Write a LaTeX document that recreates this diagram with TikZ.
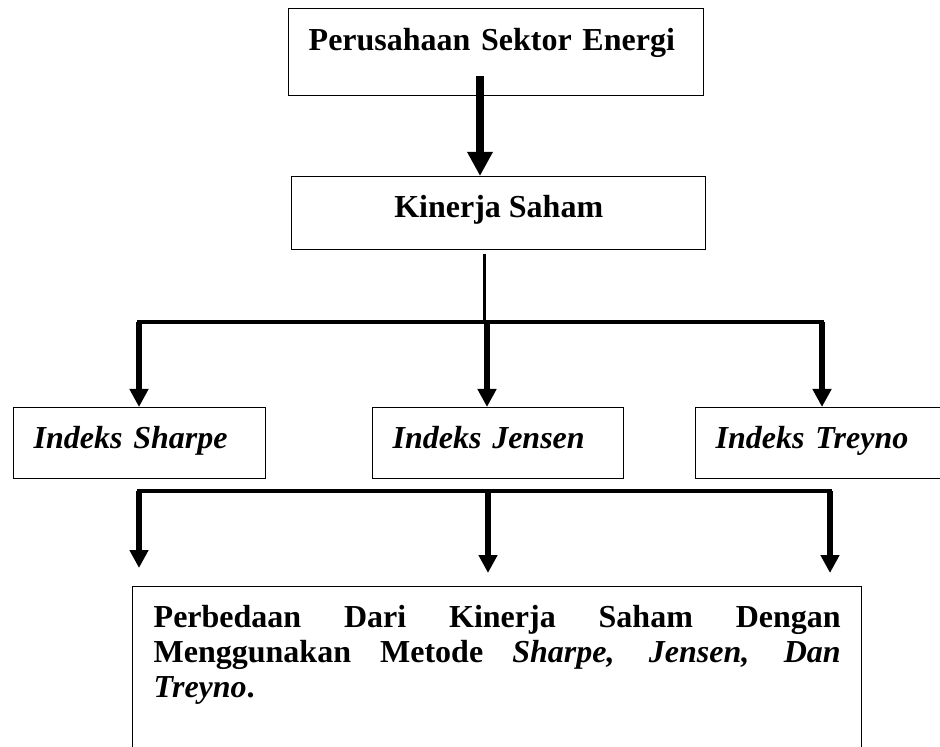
\documentclass[tikz,border=0pt]{standalone}
\usepackage{fontspec}
\setmainfont{Liberation Serif}
\usetikzlibrary{arrows.meta}
\hbadness=10000
\tikzset{%
  kotak/.style      = {shape=rectangle, draw, line width=0.7pt, inner sep=0pt,%
                       anchor=north west, font=\fontsize{16}{17.5}\selectfont\bfseries},%
  atas/.style       = {kotak, text height=21pt, text depth=22.5pt, inner xsep=10pt,%
                       text width=187.5pt, align=left},%
  pusat/.style      = {kotak, minimum width=207pt, text height=20.5pt, text depth=16pt},%
  tengah/.style     = {kotak, text height=20.5pt, text depth=15pt, inner xsep=10pt,%
                       align=left, font=\fontsize{16}{17.5}\selectfont\bfseries\itshape},%
  garis/.style      = {line width=1.75pt, line cap=rect},%
  panah/.style      = {line width=2.75pt, -{Triangle[width=9pt,length=9pt]}},%
  panahbesar/.style = {line width=4pt, -{Triangle[width=12pt,length=12pt]}}%
}
\begin{document}
\begin{tikzpicture}[x=0.5pt, y=-0.5pt]
	\useasboundingbox (0,0) rectangle (940,747);
	\node[atas] (energi) at (288,8) {Perusahaan Sektor Energi};
	\node[pusat] (kinerja) at (291,176) {Kinerja Saham};
	\node[tengah, text width=106pt] (sharpe) at (13,407) {Indeks Sharpe};
	\node[tengah, text width=105.5pt] (jensen) at (372,407) {Indeks Jensen};
	\node[tengah, text width=107.5pt] (treyno) at (695,407) {Indeks Treyno};
	\node[kotak, inner xsep=10.5pt] (beda) at (132,586) {%
		\parbox[c][87pt][t]{343.5pt}{\rule{0pt}{20.5pt}Perbedaan Dari Kinerja Saham Dengan\linebreak
		Menggunakan Metode \textit{Sharpe, Jensen, Dan}\linebreak
		\textit{Treyno}.}};
	\coordinate (pangkal) at (480,76);
	\coordinate (cabang) at (484,254);
	\coordinate (bus1kiri) at (139,322);
	\coordinate (bus1tengah) at (487,322);
	\coordinate (bus1kanan) at (822,322);
	\coordinate (bus2kiri) at (139,491);
	\coordinate (bus2tengah) at (488,491);
	\coordinate (bus2kanan) at (830,491);
	\draw[panahbesar] (pangkal) -- (pangkal |- kinerja.north);
	\draw[line width=1.5pt] (cabang) -- (cabang |- bus1tengah);
	\draw[garis] (bus1kiri) -- (bus1kanan);
	\draw[panah] (bus1kiri) -- (bus1kiri |- sharpe.north);
	\draw[panah] (bus1tengah) -- (bus1tengah |- jensen.north);
	\draw[panah] (bus1kanan) -- (bus1kanan |- treyno.north);
	\draw[garis] (bus2kiri) -- (bus2kanan);
	\draw[panah, shorten >=9pt] (bus2kiri) -- (bus2kiri |- beda.north);
	\draw[panah, shorten >=6.5pt] (bus2tengah) -- (bus2tengah |- beda.north);
	\draw[panah, shorten >=6.5pt] (bus2kanan) -- (bus2kanan |- beda.north);
\end{tikzpicture}
\end{document}
